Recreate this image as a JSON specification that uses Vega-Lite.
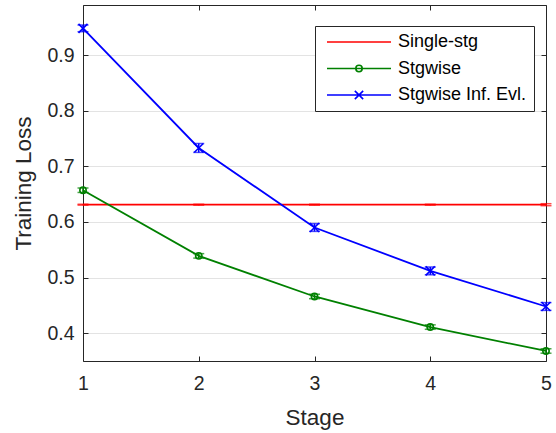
{
  "$schema": "https://vega.github.io/schema/vega-lite/v6.json",
  "width": 463,
  "height": 356,
  "autosize": "none",
  "padding": {"left": 83, "top": 5, "right": 10, "bottom": 72},
  "background": "white",
  "config": {
    "view": {"stroke": null},
    "axis": {
      "domainColor": "#262626",
      "tickColor": "#262626",
      "labelColor": "#262626",
      "titleColor": "#262626",
      "labelFont": "Liberation Sans",
      "titleFont": "Liberation Sans",
      "labelFontSize": 19.5,
      "titleFontSize": 22.5,
      "titleFontWeight": "normal",
      "gridColor": "#e3e3e3",
      "gridWidth": 1,
      "domainWidth": 1,
      "tickWidth": 1,
      "labelFlush": false
    }
  },
  "data": {
    "values": [
      {"stage": 1, "series": "Single-stg", "loss": 0.631, "lo": 0.6302, "hi": 0.6318},
      {"stage": 2, "series": "Single-stg", "loss": 0.631, "lo": 0.6302, "hi": 0.6318},
      {"stage": 3, "series": "Single-stg", "loss": 0.631, "lo": 0.6302, "hi": 0.6318},
      {"stage": 4, "series": "Single-stg", "loss": 0.631, "lo": 0.6302, "hi": 0.6318},
      {"stage": 5, "series": "Single-stg", "loss": 0.631, "lo": 0.6292, "hi": 0.6328},
      {"stage": 1, "series": "Stgwise", "loss": 0.657, "lo": 0.653, "hi": 0.661},
      {"stage": 2, "series": "Stgwise", "loss": 0.539, "lo": 0.535, "hi": 0.543},
      {"stage": 3, "series": "Stgwise", "loss": 0.466, "lo": 0.462, "hi": 0.470},
      {"stage": 4, "series": "Stgwise", "loss": 0.411, "lo": 0.407, "hi": 0.415},
      {"stage": 5, "series": "Stgwise", "loss": 0.368, "lo": 0.364, "hi": 0.372},
      {"stage": 1, "series": "Stgwise Inf. Evl.", "loss": 0.948, "lo": 0.942, "hi": 0.954},
      {"stage": 2, "series": "Stgwise Inf. Evl.", "loss": 0.733, "lo": 0.725, "hi": 0.741},
      {"stage": 3, "series": "Stgwise Inf. Evl.", "loss": 0.590, "lo": 0.583, "hi": 0.597},
      {"stage": 4, "series": "Stgwise Inf. Evl.", "loss": 0.512, "lo": 0.505, "hi": 0.519},
      {"stage": 5, "series": "Stgwise Inf. Evl.", "loss": 0.448, "lo": 0.441, "hi": 0.455}
    ]
  },
  "layer": [
    {
      "mark": {"type": "point", "opacity": 0},
      "encoding": {
        "x": {"field": "stage", "type": "quantitative", "scale": {"domain": [1, 5], "nice": false, "zero": false},
          "axis": {"title": "Stage", "values": [1, 2, 3, 4, 5], "format": "d", "grid": false, "tickSize": -5, "labelPadding": 18, "titlePadding": 14}},
        "y": {"field": "loss", "type": "quantitative", "scale": {"domain": [0.35, 0.99], "nice": false, "zero": false},
          "axis": {"title": "Training Loss", "values": [0.4, 0.5, 0.6, 0.7, 0.8, 0.9], "format": ".1f", "grid": true, "tickSize": -5, "labelPadding": 14, "titlePadding": 11}}
      }
    },
    {
      "mark": {"type": "point", "opacity": 0},
      "encoding": {
        "x": {"field": "stage", "type": "quantitative",
          "axis": {"orient": "top", "title": null, "labels": false, "values": [1, 2, 3, 4, 5], "grid": false, "tickSize": -5}},
        "y": {"field": "loss", "type": "quantitative",
          "axis": {"orient": "right", "title": null, "labels": false, "values": [0.4, 0.5, 0.6, 0.7, 0.8, 0.9], "grid": false, "tickSize": -5}}
      }
    },
    {
      "mark": {"type": "rule", "strokeWidth": 1.5},
      "encoding": {
        "x": {"field": "stage", "type": "quantitative", "axis": null},
        "y": {"field": "lo", "type": "quantitative", "axis": null},
        "y2": {"field": "hi"},
        "color": {"field": "series", "type": "nominal", "scale": {"domain": ["Single-stg", "Stgwise", "Stgwise Inf. Evl."], "range": ["#ff0000", "#008000", "#0000ff"]}}
      }
    },
    {
      "mark": {"type": "tick", "orient": "horizontal", "size": 11, "thickness": 1.5},
      "encoding": {
        "x": {"field": "stage", "type": "quantitative", "axis": null},
        "y": {"field": "lo", "type": "quantitative", "axis": null},
        "color": {"field": "series", "type": "nominal"}
      }
    },
    {
      "mark": {"type": "tick", "orient": "horizontal", "size": 11, "thickness": 1.5},
      "encoding": {
        "x": {"field": "stage", "type": "quantitative", "axis": null},
        "y": {"field": "hi", "type": "quantitative", "axis": null},
        "color": {"field": "series", "type": "nominal"}
      }
    },
    {
      "mark": {"type": "line", "strokeWidth": 1.8},
      "encoding": {
        "x": {"field": "stage", "type": "quantitative", "axis": null},
        "y": {"field": "loss", "type": "quantitative", "axis": null},
        "color": {"field": "series", "type": "nominal",
          "legend": {
            "title": null, "orient": "none", "legendX": 232, "legendY": 21,
            "symbolSize": 4096, "symbolStrokeWidth": 1.6, "clipHeight": 18,
            "labelFont": "Liberation Sans", "labelFontSize": 18, "labelColor": "#000000",
            "padding": 7, "rowPadding": 8.5, "labelOffset": 6, "symbolOffset": 4,
            "strokeColor": "#262626", "fillColor": "white",
            "encode": {"symbols": {"update": {
              "shape": {"signal": "datum.value === 'Stgwise' ? 'M-1,0H1M0.1,0A0.1,0.1 0 1 1 -0.1,0A0.1,0.1 0 1 1 0.1,0' : (datum.value === 'Stgwise Inf. Evl.' ? 'M-1,0H1M-0.13,-0.13L0.13,0.13M-0.13,0.13L0.13,-0.13' : 'M-1,0H1')"},
              "fill": {"value": "transparent"},
              "fillOpacity": {"value": 0}
            }}}
          }}
      }
    },
    {
      "transform": [{"filter": "datum.series === 'Stgwise'"}],
      "mark": {"type": "point", "shape": "circle", "filled": false, "size": 40, "strokeWidth": 1.6, "opacity": 1},
      "encoding": {
        "x": {"field": "stage", "type": "quantitative", "axis": null},
        "y": {"field": "loss", "type": "quantitative", "axis": null},
        "color": {"field": "series", "type": "nominal"}
      }
    },
    {
      "transform": [{"filter": "datum.series === 'Stgwise Inf. Evl.'"}],
      "mark": {"type": "point", "shape": "M-1,-1L1,1M-1,1L1,-1", "filled": false, "size": 81, "strokeWidth": 1.6, "opacity": 1},
      "encoding": {
        "x": {"field": "stage", "type": "quantitative", "axis": null},
        "y": {"field": "loss", "type": "quantitative", "axis": null},
        "color": {"field": "series", "type": "nominal"}
      }
    }
  ],
  "resolve": {"axis": {"x": "independent", "y": "independent"}}
}
